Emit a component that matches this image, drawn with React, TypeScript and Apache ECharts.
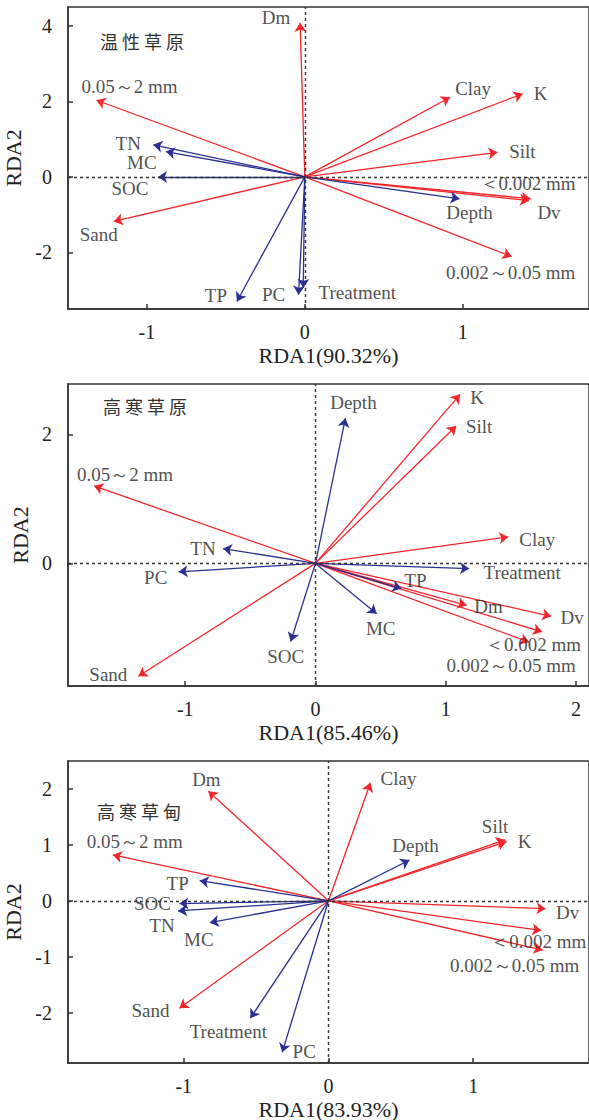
import React, { useEffect, useRef } from "react";
import * as echarts from "echarts";

// ---------- Panel 1: 温性草原 ----------
const P1_TITLE = "温性草原";
const P1_XNAME = "RDA1(90.32%)";
const P1_NAMES = ["Dm", "0.05～2 mm", "Clay", "K", "Silt", "＜0.002 mm", "Dv", "0.002～0.05 mm", "Sand", "TN", "MC", "SOC", "TP", "PC", "Treatment", "Depth"];
const P1_X = [-0.03, -1.32, 0.92, 1.38, 1.22, 1.43, 1.42, 1.31, -1.21, -0.96, -0.88, -0.93, -0.43, -0.04, -0.01, 0.98];
const P1_Y = [4.08, 2.03, 2.11, 2.2, 0.65, -0.58, -0.63, -2.11, -1.18, 0.85, 0.67, 0.0, -3.3, -3.12, -2.94, -0.58];
const P1_TYPE = ["soil", "soil", "soil", "soil", "soil", "soil", "soil", "soil", "soil", "env", "env", "env", "env", "env", "env", "env"];
const P1_XTICKS = [-1, 0, 1];
const P1_YTICKS = [-2, 0, 2, 4];
const P1_XRANGE = [-1.5, 1.8];
const P1_YRANGE = [-3.5, 4.5];
const P1_LABEL_OFFSET = [[-24, -5], [33, -14], [23, -9], [18, 0], [25, -1], [-3, -15], [20, 12], [-1, 16], [-15, 13], [-25, -1], [-24, 11], [-28, 12], [-21, -6], [-25, 0], [54, 5], [10, 14]];

// ---------- Panel 2: 高寒草原 ----------
const P2_TITLE = "高寒草原";
const P2_XNAME = "RDA1(85.46%)";
const P2_NAMES = ["K", "Silt", "Clay", "Dm", "Dv", "＜0.002 mm", "0.002～0.05 mm", "0.05～2 mm", "Sand", "Depth", "Treatment", "TP", "MC", "SOC", "PC", "TN"];
const P2_X = [1.11, 1.08, 1.48, 1.16, 1.81, 1.74, 1.64, -1.7, -1.36, 0.23, 1.18, 0.66, 0.47, -0.19, -1.05, -0.71];
const P2_Y = [2.62, 2.13, 0.41, -0.65, -0.82, -1.06, -1.22, 1.2, -1.75, 2.25, -0.08, -0.39, -0.78, -1.21, -0.13, 0.23];
const P2_TYPE = ["soil", "soil", "soil", "soil", "soil", "soil", "soil", "soil", "soil", "env", "env", "env", "env", "env", "env", "env"];
const P2_XTICKS = [-1, 0, 1, 2];
const P2_YTICKS = [0, 2];
const P2_XRANGE = [-1.9, 2.1];
const P2_YRANGE = [-1.9, 2.78];
const P2_LABEL_OFFSET = [[17, 3], [23, 1], [29, 3], [22, 1], [21, 1], [-9, 13], [-18, 23], [31, -11], [-30, -2], [8, -16], [53, 4], [14, -8], [4, 15], [-5, 15], [-23, 6], [-20, 0]];

// ---------- Panel 3: 高寒草甸 ----------
const P3_TITLE = "高寒草甸";
const P3_XNAME = "RDA1(83.93%)";
const P3_NAMES = ["Dm", "0.05～2 mm", "Sand", "Clay", "Silt", "K", "Dv", "＜0.002 mm", "0.002～0.05 mm", "TP", "SOC", "TN", "MC", "Treatment", "PC", "Depth"];
const P3_X = [-0.83, -1.49, -1.03, 0.29, 1.22, 1.23, 1.5, 1.47, 1.48, -0.89, -1.03, -1.04, -0.82, -0.54, -0.32, 0.56];
const P3_Y = [1.96, 0.82, -1.92, 2.11, 1.09, 1.06, -0.14, -0.53, -0.88, 0.36, -0.05, -0.18, -0.39, -2.1, -2.71, 0.73];
const P3_TYPE = ["soil", "soil", "soil", "soil", "soil", "soil", "soil", "soil", "soil", "env", "env", "env", "env", "env", "env", "env"];
const P3_XTICKS = [-1, 0, 1];
const P3_YTICKS = [-2, -1, 0, 1, 2];
const P3_XRANGE = [-1.8, 1.8];
const P3_YRANGE = [-2.9, 2.5];
const P3_LABEL_OFFSET = [[-2, -12], [22, -13], [-29, 2], [28, -4], [-10, -13], [18, 0], [22, 4], [-3, 11], [-28, 15], [-22, 3], [-27, 0], [-16, 15], [-11, 17], [-22, 13], [22, -1], [6, -14]];

const YNAME = "RDA2";
const RED = "#f4252a";
const BLUE = "#2b2f93";
const SERIF = "'Liberation Serif', 'Times New Roman', serif";
const TEXT = "#222";

const PANELS = [
  { title: P1_TITLE, xName: P1_XNAME, names: P1_NAMES, xs: P1_X, ys: P1_Y, types: P1_TYPE, xTicks: P1_XTICKS, yTicks: P1_YTICKS, xRange: P1_XRANGE, yRange: P1_YRANGE, offsets: P1_LABEL_OFFSET },
  { title: P2_TITLE, xName: P2_XNAME, names: P2_NAMES, xs: P2_X, ys: P2_Y, types: P2_TYPE, xTicks: P2_XTICKS, yTicks: P2_YTICKS, xRange: P2_XRANGE, yRange: P2_YRANGE, offsets: P2_LABEL_OFFSET },
  { title: P3_TITLE, xName: P3_XNAME, names: P3_NAMES, xs: P3_X, ys: P3_Y, types: P3_TYPE, xTicks: P3_XTICKS, yTicks: P3_YTICKS, xRange: P3_XRANGE, yRange: P3_YRANGE, offsets: P3_LABEL_OFFSET },
];

const GRID_TOPS = [7, 384, 761];
const TITLE_POS = [[100, 32], [103, 397], [97, 802]];

function buildOption() {
  const grid: any[] = [];
  const xAxis: any[] = [];
  const yAxis: any[] = [];
  const series: any[] = [];
  const graphic: any[] = [];

  PANELS.forEach((p, i) => {
    grid.push({
      left: 68,
      top: GRID_TOPS[i],
      width: 521,
      height: 302,
      containLabel: false,
      outerBoundsMode: "none",
      show: true,
      borderColor: "#333",
      borderWidth: 1.5,
      backgroundColor: "transparent",
    });
    xAxis.push({
      type: "value",
      gridIndex: i,
      min: p.xRange[0],
      max: p.xRange[1],
      name: p.xName,
      nameLocation: "middle",
      nameGap: 35,
      nameTextStyle: { fontFamily: SERIF, fontSize: 22, color: TEXT },
      axisLine: { show: true, onZero: false, lineStyle: { color: "#333", width: 1.5 } },
      axisTick: { show: true, inside: true, length: 5, customValues: p.xTicks, lineStyle: { color: "#333", width: 1.5 } },
      axisLabel: { show: true, customValues: p.xTicks, margin: 13, fontFamily: SERIF, fontSize: 20, color: TEXT },
      splitLine: { show: false },
    });
    yAxis.push({
      type: "value",
      gridIndex: i,
      min: p.yRange[0],
      max: p.yRange[1],
      name: YNAME,
      nameLocation: "middle",
      nameGap: 35,
      nameRotate: 90,
      nameTextStyle: { fontFamily: SERIF, fontSize: 22, color: TEXT },
      axisLine: { show: true, onZero: false, lineStyle: { color: "#333", width: 1.5 } },
      axisTick: { show: true, inside: true, length: 5, customValues: p.yTicks, lineStyle: { color: "#333", width: 1.5 } },
      axisLabel: { show: true, customValues: p.yTicks, margin: 16, fontFamily: SERIF, fontSize: 20, color: TEXT },
      splitLine: { show: false },
    });

    // arrows
    series.push({
      type: "lines",
      coordinateSystem: "cartesian2d",
      xAxisIndex: i,
      yAxisIndex: i,
      silent: true,
      symbol: ["none", "arrow"],
      symbolSize: 9,
      z: 3,
      data: p.names.map((n, k) => ({
        name: n,
        coords: [[0, 0], [p.xs[k], p.ys[k]]],
        lineStyle: { color: p.types[k] === "soil" ? RED : BLUE, width: 1.3, opacity: 1 },
      })),
    });

    // labels + zero reference lines
    series.push({
      type: "scatter",
      xAxisIndex: i,
      yAxisIndex: i,
      silent: true,
      symbolSize: 0.1,
      itemStyle: { color: "transparent" },
      z: 4,
      label: {
        show: true,
        position: "inside",
        align: "center",
        verticalAlign: "middle",
        fontFamily: SERIF,
        fontSize: 19,
        color: TEXT,
        formatter: (d: any) => d.name,
      },
      data: p.names.map((n, k) => ({
        name: n,
        value: [p.xs[k], p.ys[k]],
        label: { offset: p.offsets[k] },
      })),
      markLine: {
        silent: true,
        symbol: ["none", "none"],
        label: { show: false },
        lineStyle: { color: "#333", type: [3, 3], width: 1.4 },
        data: [{ xAxis: 0 }, { yAxis: 0 }],
      },
    });

    graphic.push({
      type: "text",
      left: TITLE_POS[i][0],
      top: TITLE_POS[i][1],
      style: {
        text: p.title.split("").join(" "),
        font: "18px 'Noto Sans CJK SC'",
        fill: "#333",
      },
    });
  });

  return { animation: false, grid, xAxis, yAxis, series, graphic };
}

export default function App() {
  const ref = useRef<HTMLDivElement>(null);
  useEffect(() => {
    if (!ref.current) return;
    const chart = echarts.init(ref.current, undefined, { renderer: "svg" });
    chart.setOption(buildOption() as any);
    return () => chart.dispose();
  }, []);
  return (
    <div style={{ position: "absolute", left: 0, top: 0, width: 589, height: 1120, overflow: "hidden", background: "#fff" }}>
      <div ref={ref} style={{ width: 595, height: 1120 }} />
    </div>
  );
}
